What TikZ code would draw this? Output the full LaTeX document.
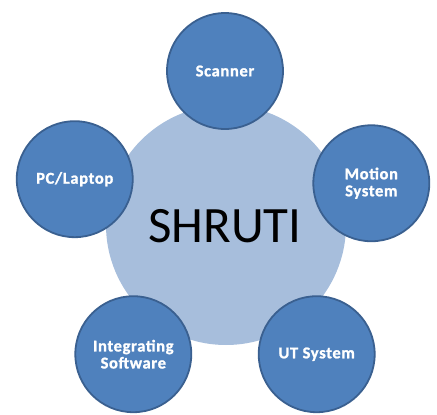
\documentclass[tikz,border=0pt]{standalone}
\usepackage{fontspec}
\setmainfont{Carlito}
\usetikzlibrary{calc}
\definecolor{bleu}{HTML}{4F81BD}
\definecolor{bleubord}{HTML}{3A6090}
\definecolor{bleuclair}{HTML}{A7BEDC}
\tikzset{
    satellite/.style={circle,draw=bleubord,line width=1.8pt,fill=bleu,
      minimum size=116pt,inner sep=0pt,align=center,text=white,
      font=\fontsize{16.5}{18}\selectfont\bfseries\addfontfeature{LetterSpace=4,FakeBold=1.2}},
  }
\begin{document}
\begin{tikzpicture}[x=1pt,y=1pt]
				  \useasboundingbox (0,0) rectangle (437,-415);
				  %CENTRE
				  \coordinate (O) at (225,-228);
				  \node[circle,fill=bleuclair,minimum size=240pt,inner sep=0pt] (centre) at (226,-225) {};
				  \node[font=\fontsize{51}{51}\selectfont] (titre) at (225,-226) {SHRUTI};
				  
				  %SATELLITES
				  \node[satellite] (scanner) at ($(O)+(90:157)$) {Scanner};
				  \node[satellite] (motion) at ($(O)+(17:153)$) {Motion\\[-1pt]System};
				  \node[satellite] (ut) at ($(O)+(-54:156)$) {UT System};
				  \node[satellite] (integ) at ($(O)+(-126:156)$) {Integrating\\[-1pt]Software};
				  \node[satellite] (pc) at ($(O)+(162:158)$) {PC/Laptop};
				  
				  \end{tikzpicture}
\end{document}
